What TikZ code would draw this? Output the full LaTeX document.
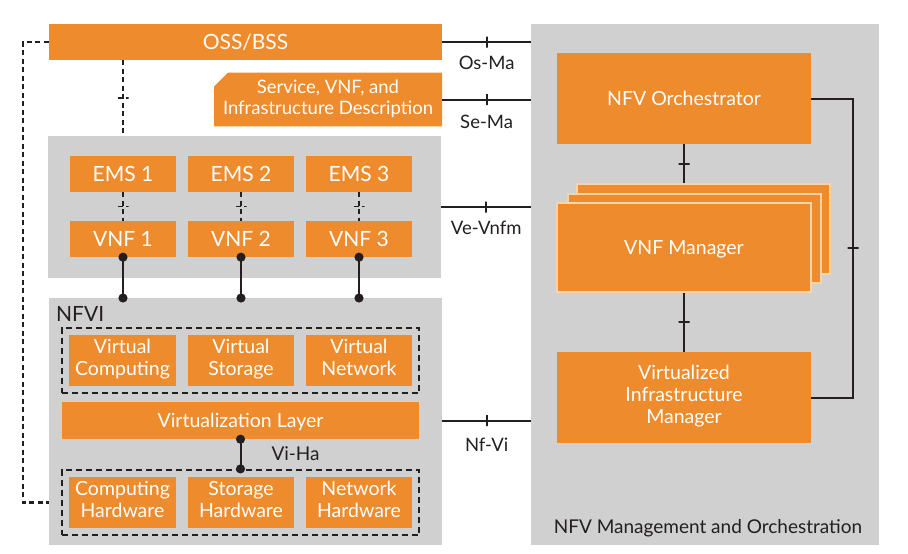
\documentclass[tikz,border=0pt]{standalone}
\usepackage{fontspec}
\setmainfont{Lato}
\usetikzlibrary{arrows.meta,positioning,fit,shapes.misc}
\definecolor{nfvOrange}{RGB}{237,139,45}
\definecolor{nfvGray}  {RGB}{208,208,208}
\definecolor{nfvInk}   {RGB}{35,31,32}
\definecolor{nfvEdge}  {RGB}{247,212,170}
\newcommand{\topstrut}{\rule{0pt}{1em}}
\newcommand{\botstrut}{\rule[-0.28em]{0pt}{0.28em}}

\begin{document}
\begin{tikzpicture}[x=1pt, y=-1pt,
      area/.style={fill=nfvGray, inner sep=0pt, anchor=north west},
      block/.style={fill=nfvOrange, text=white, inner sep=0pt, align=center,
                    font=\fontsize{19.5}{22}\selectfont,
                    execute at begin node=\topstrut, execute at end node=\botstrut},
      bigblock/.style={block, font=\fontsize{21}{24}\selectfont},
      sheet/.style={block, draw=nfvEdge, line width=1.2pt},
      frame/.style={draw=nfvInk, line width=1.8pt, dash pattern=on 6pt off 4pt,
                    inner sep=7pt},
      iflabel/.style={text=nfvInk, inner sep=0pt, font=\fontsize{18.5}{21}\selectfont},
      ifline/.style={draw=nfvInk, line width=2pt},
      dashline/.style={draw=nfvInk, line width=2.4pt, dash pattern=on 5pt off 3.5pt},
      dotline/.style={ifline, {Circle[length=9pt]}-{Circle[length=9pt]},
                      shorten <=-4.5pt, shorten >=-4.5pt},
      vtick/.style={draw=nfvInk, line width=1.8pt, inner sep=0pt,
                    minimum width=0pt, minimum height=11pt},
      htick/.style={draw=nfvInk, line width=1.8pt, inner sep=0pt,
                    minimum height=0pt, minimum width=11pt}]

    \useasboundingbox (0,0) rectangle (908,554);

    % grey areas
    \node[area, minimum width=348pt, minimum height=521pt] (mano)    at (531,24)  {};
    \node[area, minimum width=393pt, minimum height=142pt] (vnfarea) at (48,136)  {};
    \node[area, minimum width=393pt, minimum height=247pt] (nfvi)    at (49,298)  {};

    \node[iflabel, font=\fontsize{19}{22}\selectfont, anchor=base] (manotitle)
      at (708,533) {NFV Management and Orchestration};
    \node[iflabel, font=\fontsize{21}{24}\selectfont, anchor=base west] (nfvititle)
      at (56,321) {NFVI};

    % top blocks
    \node[bigblock, minimum width=393pt, minimum height=36pt] (oss) at (245.5,42) {OSS/BSS};
    \node[block, font=\fontsize{18.5}{21}\selectfont, chamfered rectangle,
          chamfered rectangle corners=north west,
          chamfered rectangle xsep=7pt, chamfered rectangle ysep=7pt,
          minimum width=228pt, minimum height=47pt] (desc) at (328,99.5)
      {Service, VNF, and\\Infrastructure Description};

    % EMS and VNF
    \node[bigblock, minimum width=106pt, minimum height=36pt] (ems1) at (123,174) {EMS 1};
    \node[bigblock, minimum width=106pt, minimum height=36pt] (ems2) at (241,174) {EMS 2};
    \node[bigblock, minimum width=106pt, minimum height=36pt] (ems3) at (359,174) {EMS 3};
    \node[bigblock, minimum width=106pt, minimum height=36pt] (vnf1) at (123,239) {VNF 1};
    \node[bigblock, minimum width=106pt, minimum height=36pt] (vnf2) at (241,239) {VNF 2};
    \node[bigblock, minimum width=106pt, minimum height=36pt] (vnf3) at (359,239) {VNF 3};

    % NFVI
    \node[block, minimum width=107pt, minimum height=51pt] (vcomp) at (122.5,360.5) {Virtual\\Computing};
    \node[block, minimum width=106pt, minimum height=51pt] (vstor) at (241,360.5)   {Virtual\\Storage};
    \node[block, minimum width=106pt, minimum height=51pt] (vnet)  at (359,360.5)   {Virtual\\Network};
    \node[frame, fit=(vcomp)(vnet)] (vframe) {};

    \node[block, minimum width=357pt, minimum height=37pt] (vlayer) at (240.5,420.5) {Virtualization Layer};

    \node[block, minimum width=107pt, minimum height=51pt] (hwcomp) at (122.5,502.5) {Computing\\Hardware};
    \node[block, minimum width=106pt, minimum height=51pt] (hwstor) at (241,502.5)   {Storage\\Hardware};
    \node[block, minimum width=106pt, minimum height=51pt] (hwnet)  at (359,502.5)   {Network\\Hardware};
    \node[frame, fit=(hwcomp)(hwnet)] (hwframe) {};

    % MANO
    \node[block, minimum width=254pt, minimum height=91pt] (orch) at (684,98.5) {NFV Orchestrator};
    \node[sheet, minimum width=253pt, minimum height=90pt] (vnfmback) at (703.5,229)   {};
    \node[sheet, minimum width=253pt, minimum height=89pt] (vnfmmid)  at (694.5,238.5) {};
    \node[sheet, minimum width=254pt, minimum height=89pt] (vnfm)     at (684,247.5)   {VNF Manager};
    \node[block, minimum width=254pt, minimum height=91pt] (vim) at (684,397.5)
      {Virtualized\\Infrastructure\\Manager};

    % reference points
    \draw[ifline] (oss.east) -- node[vtick] {} node[iflabel, below=13pt] {Os-Ma} (oss.east -| mano.west);
    \draw[ifline] (desc.east) -- node[vtick] {} node[iflabel, below=15pt] {Se-Ma} (desc.east -| mano.west);
    \draw[ifline] (vnfarea.east) -- node[vtick] {} node[iflabel, below=13pt] {Ve-Vnfm} (vnfarea.east -| mano.west);
    \draw[ifline] (nfvi.east |- vlayer) -- node[vtick] {} node[iflabel, below=16pt] {Nf-Vi} (vlayer -| mano.west);

    \draw[dashline] (oss.south -| ems1) -- node[htick] {} (vnfarea.north -| ems1);
    \draw[dashline] (oss.west) -- ++(-26,0) |- (nfvi.west |- hwcomp);

    \draw[dashline] (ems1.south) -- node[htick] {} (vnf1.north);
    \draw[dashline] (ems2.south) -- node[htick] {} (vnf2.north);
    \draw[dashline] (ems3.south) -- node[htick] {} (vnf3.north);

    \draw[dotline] (vnf1.south) -- (vnf1.south |- nfvi.north);
    \draw[dotline] (vnf2.south) -- (vnf2.south |- nfvi.north);
    \draw[dotline] (vnf3.south) -- (vnf3.south |- nfvi.north);
    \draw[dotline] (vlayer.south) -- node[iflabel, font=\fontsize{19}{22}\selectfont, right=30pt] {Vi-Ha}
      (vlayer.south |- hwframe.north);

    \draw[ifline] (orch.south) -- node[htick] {} (orch.south |- vnfmback.north);
    \draw[ifline] (vnfm.south) -- node[htick] {} (vim.north);
    \draw[ifline] (orch.east) -- ++(42,0) |- node[pos=0.25, htick] {} (vim.east);
  \end{tikzpicture}
\end{document}
